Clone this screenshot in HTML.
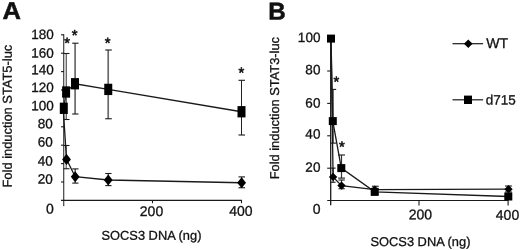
<!DOCTYPE html>
<html><head><meta charset="utf-8"><title>Figure</title>
<style>
html,body{margin:0;padding:0;background:#fff;}
svg{display:block;font-family:"Liberation Sans",sans-serif;fill:#111;}
text{stroke:#111;stroke-width:0.3px;text-rendering:geometricPrecision;}
</style></head><body>
<svg width="520" height="250" viewBox="0 0 520 250">
<rect width="520" height="250" fill="#fff"/>
<text transform="translate(2.5,19.1) rotate(0.03) scale(1.05,1)" font-size="24.3" font-weight="bold" style="stroke-width:0.5px">A</text>
<text transform="translate(268.2,19.4) rotate(0.03)" font-size="24.2" text-anchor="start" font-weight="bold" style="stroke-width:0.5px">B</text>
<line x1="63.75" y1="34.3" x2="63.75" y2="206.2" stroke="#1a1a1a" stroke-width="1.0"/>
<line x1="61" y1="200.4" x2="242" y2="200.4" stroke="#1a1a1a" stroke-width="1.1"/>
<line x1="61" y1="34.8" x2="64" y2="34.8" stroke="#1a1a1a" stroke-width="1.1"/>
<line x1="61" y1="53.2" x2="64" y2="53.2" stroke="#1a1a1a" stroke-width="1.1"/>
<line x1="61" y1="71.6" x2="64" y2="71.6" stroke="#1a1a1a" stroke-width="1.1"/>
<line x1="61" y1="90.0" x2="64" y2="90.0" stroke="#1a1a1a" stroke-width="1.1"/>
<line x1="61" y1="108.4" x2="64" y2="108.4" stroke="#1a1a1a" stroke-width="1.1"/>
<line x1="61" y1="126.8" x2="64" y2="126.8" stroke="#1a1a1a" stroke-width="1.1"/>
<line x1="61" y1="145.2" x2="64" y2="145.2" stroke="#1a1a1a" stroke-width="1.1"/>
<line x1="61" y1="163.6" x2="64" y2="163.6" stroke="#1a1a1a" stroke-width="1.1"/>
<line x1="61" y1="182.0" x2="64" y2="182.0" stroke="#1a1a1a" stroke-width="1.1"/>
<line x1="152.5" y1="200" x2="152.5" y2="203.2" stroke="#1a1a1a" stroke-width="1.1"/>
<line x1="241.5" y1="200" x2="241.5" y2="203.2" stroke="#1a1a1a" stroke-width="1.1"/>
<text transform="translate(53.7,39.08) rotate(0.03)" font-size="13.5" text-anchor="end" >180</text>
<text transform="translate(53.7,57.63) rotate(0.03)" font-size="13.5" text-anchor="end" >160</text>
<text transform="translate(53.7,74.33) rotate(0.03)" font-size="13.5" text-anchor="end" >140</text>
<text transform="translate(53.7,91.98) rotate(0.03)" font-size="13.5" text-anchor="end" >120</text>
<text transform="translate(53.7,110.33) rotate(0.03)" font-size="13.5" text-anchor="end" >100</text>
<text transform="translate(52.8,128.23) rotate(0.03)" font-size="13.5" text-anchor="end" >80</text>
<text transform="translate(52.8,146.48) rotate(0.03)" font-size="13.5" text-anchor="end" >60</text>
<text transform="translate(52.8,165.43) rotate(0.03)" font-size="13.5" text-anchor="end" >40</text>
<text transform="translate(52.8,183.63) rotate(0.03)" font-size="13.5" text-anchor="end" >20</text>
<text transform="translate(49.9,213.41) rotate(0.03)" font-size="14.0" text-anchor="middle" >0</text>
<text transform="translate(151.5,216.11) rotate(0.03)" font-size="14.0" text-anchor="middle" >200</text>
<text transform="translate(240.8,215.71) rotate(0.03)" font-size="14.0" text-anchor="middle" >400</text>
<text transform="translate(101.5,239.7) rotate(0.03)" font-size="12.85" text-anchor="start" >SOCS3 DNA (ng)</text>
<text transform="translate(11.7,187.5) rotate(-89.97)" font-size="12.9">Fold induction STAT5-luc</text>
<line x1="66.3" y1="53.5" x2="66.3" y2="119.5" stroke="#6a6a6a" stroke-width="1.4"/>
<line x1="63.5" y1="53.5" x2="69.5" y2="53.5" stroke="#1a1a1a" stroke-width="1.1"/>
<line x1="63.5" y1="119.5" x2="69.5" y2="119.5" stroke="#1a1a1a" stroke-width="1.1"/>
<line x1="75.1" y1="43.2" x2="75.1" y2="114" stroke="#6a6a6a" stroke-width="1.7"/>
<line x1="72.2" y1="43.2" x2="78.5" y2="43.2" stroke="#1a1a1a" stroke-width="1.1"/>
<line x1="72.2" y1="114" x2="78.5" y2="114" stroke="#1a1a1a" stroke-width="1.1"/>
<line x1="108.2" y1="50" x2="108.2" y2="118.75" stroke="#6a6a6a" stroke-width="1.7"/>
<line x1="105.2" y1="50" x2="111.8" y2="50" stroke="#1a1a1a" stroke-width="1.1"/>
<line x1="105.2" y1="118.75" x2="111.8" y2="118.75" stroke="#1a1a1a" stroke-width="1.1"/>
<line x1="241.5" y1="80.3" x2="241.5" y2="135" stroke="#222" stroke-width="1.0"/>
<line x1="238.5" y1="80.3" x2="245" y2="80.3" stroke="#1a1a1a" stroke-width="1.1"/>
<line x1="238.5" y1="135" x2="245" y2="135" stroke="#1a1a1a" stroke-width="1.1"/>
<line x1="66.2" y1="145.5" x2="66.2" y2="168.75" stroke="#444" stroke-width="1.0"/>
<line x1="63.5" y1="145.5" x2="69.5" y2="145.5" stroke="#1a1a1a" stroke-width="1.1"/>
<line x1="63.5" y1="168.75" x2="69.5" y2="168.75" stroke="#1a1a1a" stroke-width="1.1"/>
<line x1="75.2" y1="168.9" x2="75.2" y2="183.1" stroke="#333" stroke-width="1.2"/>
<line x1="72.25" y1="168.9" x2="78.5" y2="168.9" stroke="#1a1a1a" stroke-width="1.1"/>
<line x1="72.25" y1="183.1" x2="78.5" y2="183.1" stroke="#1a1a1a" stroke-width="1.1"/>
<line x1="108.25" y1="173.5" x2="108.25" y2="185.6" stroke="#333" stroke-width="1.2"/>
<line x1="105.25" y1="173.5" x2="111.5" y2="173.5" stroke="#1a1a1a" stroke-width="1.1"/>
<line x1="105.25" y1="185.6" x2="111.5" y2="185.6" stroke="#1a1a1a" stroke-width="1.1"/>
<line x1="241.6" y1="176.9" x2="241.6" y2="187.75" stroke="#333" stroke-width="1.2"/>
<line x1="238.5" y1="176.9" x2="245" y2="176.9" stroke="#1a1a1a" stroke-width="1.1"/>
<line x1="238.5" y1="187.75" x2="245" y2="187.75" stroke="#1a1a1a" stroke-width="1.1"/>
<polyline points="63.8,108.3 66.1,92 75,83.75 108.25,89.4 241.5,111.75" fill="none" stroke="#1a1a1a" stroke-width="1.3"/>
<polyline points="63.2,108.3 66.5,159.4 75.2,176.75 108.25,180 241.6,182.75" fill="none" stroke="#1a1a1a" stroke-width="1.3"/>
<rect x="59.80" y="102.65" width="8" height="11.3" fill="#000"/>
<rect x="62.10" y="86.35" width="8" height="11.3" fill="#000"/>
<rect x="71.00" y="78.10" width="8" height="11.3" fill="#000"/>
<rect x="104.25" y="83.75" width="8" height="11.3" fill="#000"/>
<rect x="237.50" y="106.10" width="8" height="11.3" fill="#000"/>
<polygon points="66.50,153.80 70.90,159.40 66.50,165.00 62.10,159.40" fill="#000"/>
<polygon points="75.20,171.15 79.60,176.75 75.20,182.35 70.80,176.75" fill="#000"/>
<polygon points="108.25,174.40 112.65,180.00 108.25,185.60 103.85,180.00" fill="#000"/>
<polygon points="241.60,177.15 246.00,182.75 241.60,188.35 237.20,182.75" fill="#000"/>
<text transform="translate(67.1,47.9) rotate(0.03)" font-size="14.8" text-anchor="middle" style="stroke-width:0.55px">*</text>
<text transform="translate(74.6,40.15) rotate(0.03)" font-size="14.8" text-anchor="middle" style="stroke-width:0.55px">*</text>
<text transform="translate(107.6,47.9) rotate(0.03)" font-size="14.8" text-anchor="middle" style="stroke-width:0.55px">*</text>
<text transform="translate(241.35,77.65) rotate(0.03)" font-size="14.8" text-anchor="middle" style="stroke-width:0.55px">*</text>
<line x1="330.7" y1="38" x2="330.7" y2="205.3" stroke="#1a1a1a" stroke-width="1.3"/>
<line x1="327.2" y1="200.5" x2="508.5" y2="200.5" stroke="#1a1a1a" stroke-width="1.2"/>
<line x1="327.2" y1="71.0" x2="331" y2="71.0" stroke="#1a1a1a" stroke-width="1.1"/>
<line x1="327.2" y1="103.4" x2="331" y2="103.4" stroke="#1a1a1a" stroke-width="1.1"/>
<line x1="327.2" y1="135.8" x2="331" y2="135.8" stroke="#1a1a1a" stroke-width="1.1"/>
<line x1="327.2" y1="168.2" x2="331" y2="168.2" stroke="#1a1a1a" stroke-width="1.1"/>
<line x1="419" y1="200.5" x2="419" y2="205.5" stroke="#1a1a1a" stroke-width="1.1"/>
<line x1="508.1" y1="200.5" x2="508.1" y2="205.5" stroke="#1a1a1a" stroke-width="1.1"/>
<text transform="translate(320.4,41.93) rotate(0.03)" font-size="13.5" text-anchor="end" >100</text>
<text transform="translate(320.4,74.23) rotate(0.03)" font-size="13.5" text-anchor="end" >80</text>
<text transform="translate(320.4,107.43) rotate(0.03)" font-size="13.5" text-anchor="end" >60</text>
<text transform="translate(320.4,138.43) rotate(0.03)" font-size="13.5" text-anchor="end" >40</text>
<text transform="translate(320.4,171.73) rotate(0.03)" font-size="13.5" text-anchor="end" >20</text>
<text transform="translate(316.75,213.76) rotate(0.03)" font-size="14.0" text-anchor="middle" >0</text>
<text transform="translate(420.3,219.21) rotate(0.03)" font-size="14.0" text-anchor="middle" >200</text>
<text transform="translate(507.5,219.71) rotate(0.03)" font-size="14.0" text-anchor="middle" >400</text>
<text transform="translate(370.5,246) rotate(0.03)" font-size="12.85" text-anchor="start" >SOCS3 DNA (ng)</text>
<text transform="translate(278.9,179.3) rotate(-89.97)" font-size="12.85">Fold induction STAT3-luc</text>
<line x1="333" y1="89.4" x2="333" y2="143.1" stroke="#333" stroke-width="1.4"/>
<line x1="330.2" y1="89.4" x2="336.2" y2="89.4" stroke="#1a1a1a" stroke-width="1.1"/>
<line x1="330.2" y1="143.1" x2="336.2" y2="143.1" stroke="#1a1a1a" stroke-width="1.1"/>
<line x1="341.5" y1="155" x2="341.5" y2="178.1" stroke="#333" stroke-width="1.2"/>
<line x1="338.1" y1="155" x2="345" y2="155" stroke="#1a1a1a" stroke-width="1.1"/>
<line x1="338.1" y1="178.1" x2="345" y2="178.1" stroke="#1a1a1a" stroke-width="1.1"/>
<line x1="333.1" y1="168.1" x2="333.1" y2="182.25" stroke="#333" stroke-width="1.2"/>
<line x1="330.5" y1="168.1" x2="335.6" y2="168.1" stroke="#1a1a1a" stroke-width="1.1"/>
<line x1="330.5" y1="182.25" x2="335.6" y2="182.25" stroke="#1a1a1a" stroke-width="1.1"/>
<line x1="341.5" y1="180" x2="341.5" y2="188.75" stroke="#333" stroke-width="1.2"/>
<line x1="338.5" y1="180" x2="344.75" y2="180" stroke="#1a1a1a" stroke-width="1.1"/>
<line x1="338.5" y1="188.75" x2="344.75" y2="188.75" stroke="#1a1a1a" stroke-width="1.1"/>
<line x1="374.7" y1="186.25" x2="374.7" y2="194" stroke="#333" stroke-width="1.2"/>
<line x1="371.9" y1="186.25" x2="378.75" y2="186.25" stroke="#1a1a1a" stroke-width="1.1"/>
<line x1="371.9" y1="194" x2="378.75" y2="194" stroke="#1a1a1a" stroke-width="1.1"/>
<line x1="508.5" y1="186" x2="508.5" y2="192" stroke="#333" stroke-width="1.2"/>
<line x1="505" y1="186" x2="512" y2="186" stroke="#1a1a1a" stroke-width="1.1"/>
<line x1="505" y1="192" x2="512" y2="192" stroke="#1a1a1a" stroke-width="1.1"/>
<polyline points="331,38.6 332.8,121.1 341.3,168.1 374.7,191.9 508.3,196.5" fill="none" stroke="#1a1a1a" stroke-width="1.3"/>
<polyline points="331,38.3 333.1,176.9 341.5,185.6 374.7,189.6 508.5,189.2" fill="none" stroke="#1a1a1a" stroke-width="1.3"/>
<rect x="327.00" y="34.60" width="8" height="8" fill="#000"/>
<rect x="328.80" y="117.10" width="8" height="8" fill="#000"/>
<rect x="337.30" y="164.10" width="8" height="8" fill="#000"/>
<rect x="370.70" y="187.90" width="8" height="8" fill="#000"/>
<rect x="504.30" y="192.50" width="8" height="8" fill="#000"/>
<polygon points="333.10,172.80 337.30,176.90 333.10,181.00 328.90,176.90" fill="#000"/>
<polygon points="341.50,181.50 345.70,185.60 341.50,189.70 337.30,185.60" fill="#000"/>
<polygon points="374.70,185.50 378.90,189.60 374.70,193.70 370.50,189.60" fill="#000"/>
<polygon points="508.50,185.10 512.70,189.20 508.50,193.30 504.30,189.20" fill="#000"/>
<text transform="translate(336.35,86.8) rotate(0.03)" font-size="14.8" text-anchor="middle" style="stroke-width:0.55px">*</text>
<text transform="translate(341.75,151.8) rotate(0.03)" font-size="14.8" text-anchor="middle" style="stroke-width:0.55px">*</text>
<line x1="452.5" y1="43.7" x2="483.1" y2="43.7" stroke="#1a1a1a" stroke-width="1.2"/>
<polygon points="468.25,39.45 472.55,43.75 468.25,48.05 463.95,43.75" fill="#000"/>
<text transform="translate(486.3,48) rotate(0.03)" font-size="14.1" text-anchor="start" >WT</text>
<line x1="452.5" y1="99.8" x2="483.1" y2="99.8" stroke="#1a1a1a" stroke-width="1.2"/>
<rect x="464.00" y="95.60" width="8" height="8.4" fill="#000"/>
<text transform="translate(485.8,104.5) rotate(0.03)" font-size="13.5" text-anchor="start" >d715</text>
</svg>
</body></html>
